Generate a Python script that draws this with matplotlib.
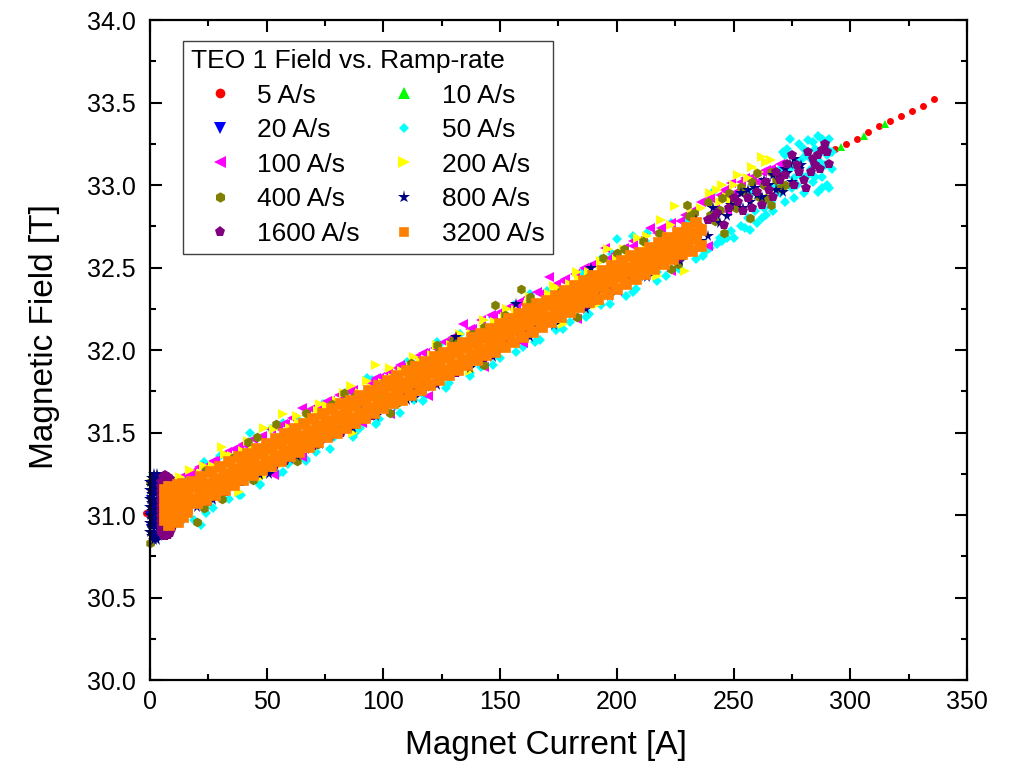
import matplotlib
matplotlib.use("Agg")
import matplotlib.pyplot as plt
from matplotlib.ticker import MultipleLocator, FormatStrFormatter

plt.rcParams['font.family'] = ['Liberation Sans', 'DejaVu Sans']

# ---- data: (current [A], field [T]) ----
pts_5 = [(-1.8, 31.01), (20, 31.15), (40, 31.29), (60, 31.44), (80, 31.58), (100, 31.73),
         (120, 31.87), (140, 32.02), (160, 32.16), (180, 32.31), (200, 32.45), (220, 32.60),
         (293.6, 33.22), (298.2, 33.25), (302.9, 33.28), (307.6, 33.32), (312.4, 33.36),
         (317.1, 33.39), (321.7, 33.42), (326.6, 33.45), (331.3, 33.48), (336.0, 33.52)]

pts_10 = [(25, 31.18), (50, 31.36), (75, 31.54), (100, 31.73), (125, 31.91), (150, 32.09),
          (175, 32.27), (200, 32.45), (225, 32.63), (296.2, 33.23), (305.7, 33.30), (315.0, 33.37)]

pts_20 = [(-0.5, 31.00), (0, 31.10), (0, 30.92), (1, 31.05), (1, 30.96), (30, 31.22), (60, 31.44),
          (90, 31.65), (120, 31.87), (150, 32.09), (180, 32.31), (210, 32.52)]

pts_50 = [(16, 31.22), (19, 30.97), (22, 30.94), (24, 31.01), (30, 31.36), (34, 31.10), (39, 31.12),
          (43, 31.50), (47, 31.18), (52, 31.52), (55, 31.25), (59, 31.31), (63, 31.58), (67, 31.34),
          (71, 31.38), (74, 31.67), (79, 31.47), (84, 31.74), (88, 31.50), (90, 31.53), (95, 31.82),
          (98, 31.58), (105, 31.66), (110, 31.93), (113, 31.70), (118, 31.72), (124, 32.03),
          (128, 31.80), (133, 32.10), (137, 31.86), (142, 31.90), (147, 32.20), (150, 31.95),
          (156, 32.27), (160, 32.02), (165, 32.05), (170, 32.36), (174, 32.12), (180, 32.17),
          (185, 32.47), (188, 32.22), (193, 32.27), (198, 32.58), (200, 32.67), (204, 32.33),
          (207, 32.69), (208, 32.37), (212, 32.66), (213, 32.71), (217, 32.47), (221, 32.45),
          (226, 32.50), (228, 32.56), (230, 32.79), (234, 32.55), (236, 32.62), (238, 32.60),
          (241, 32.96), (243, 32.64), (244, 32.68), (247, 32.68), (250, 32.68), (255, 32.74),
          (257, 32.73), (258, 32.95), (260, 32.77), (262, 32.80), (264, 32.82), (266, 32.90),
          (266, 32.98), (268, 33.06), (270, 32.95), (270, 33.10), (272, 33.18), (272, 32.90),
          (273, 33.22), (274, 33.10), (275, 32.98), (276, 33.04), (276, 32.92), (277, 33.14),
          (278, 33.25), (279, 33.06), (279, 33.15), (280, 32.95), (281, 33.18), (282, 33.27),
          (283, 33.10), (284, 33.02), (284, 33.26), (285, 33.22), (286, 33.30), (286, 32.96),
          (287, 33.14), (288, 33.05), (289, 33.24), (290, 33.18), (290, 33.00), (291, 33.28),
          (291, 32.98), (292, 33.10),
          (13, 30.95), (27, 31.04), (38, 31.12), (47, 31.19), (57, 31.26), (67, 31.33), (77, 31.40),
          (87, 31.47), (97, 31.55), (107, 31.62), (117, 31.69), (127, 31.77), (137, 31.84),
          (147, 31.91), (157, 31.99), (167, 32.06), (177, 32.13), (187, 32.20), (197, 32.28),
          (207, 32.35), (217, 32.42), (227, 32.49), (237, 32.57), (23, 31.32), (57, 31.56),
          (93, 31.83), (123, 32.05), (163, 32.34), (193, 32.55), (223, 32.77),
          (240, 32.62), (245, 32.66), (249, 32.72), (253, 32.75), (256, 32.80), (259, 32.84),
          (263, 32.86), (267, 32.84), (269, 33.00), (271, 33.20), (274, 33.28), (276, 33.12),
          (280, 33.22), (283, 33.16), (285, 33.05), (288, 33.28), (290, 33.22), (292, 33.20),
          (289, 33.12), (281, 33.05), (277, 33.00), (288, 32.98)]

pts_100 = [(12, 31.21), (15, 31.24), (18, 31.26), (21, 31.29), (24, 31.30), (28, 31.33), (33, 31.38),
           (36, 31.40), (40, 31.43), (44, 31.46), (48, 31.48), (52, 31.52), (55, 31.53), (58, 31.55),
           (61, 31.59), (65, 31.65), (65, 31.35), (69, 31.64), (72, 31.66), (76, 31.69), (81, 31.73),
           (85, 31.75), (91, 31.56), (94, 31.80), (98, 31.83), (102, 31.86), (106, 31.89),
           (110, 31.91), (114, 31.96), (118, 31.98), (119, 31.72), (122, 32.01), (126, 32.05),
           (130, 32.08), (134, 32.16), (138, 32.13), (142, 32.18), (146, 32.21), (150, 32.23),
           (154, 32.26), (158, 32.29), (160, 32.04), (162, 32.32), (166, 32.35), (171, 32.44),
           (174, 32.40), (178, 32.43), (182, 32.46), (186, 32.50), (190, 32.52), (195, 32.62),
           (199, 32.58), (200, 32.36), (203, 32.62), (207, 32.66), (211, 32.68), (214, 32.74),
           (219, 32.74), (223, 32.77), (226, 32.58), (229, 32.82), (233, 32.85), (236, 32.90),
           (239, 32.63), (240, 32.92), (244, 32.94), (249, 33.01), (253, 33.02), (258, 33.05),
           (262, 33.08), (266, 33.10), (270, 33.13),
           (17, 31.25), (27, 31.33), (38, 31.41), (47, 31.47), (57, 31.55), (67, 31.62), (77, 31.69),
           (87, 31.76), (97, 31.83), (107, 31.91), (117, 31.98), (127, 32.05), (137, 32.13),
           (147, 32.20), (157, 32.27), (167, 32.34), (177, 32.42), (187, 32.49), (197, 32.56),
           (207, 32.63), (217, 32.71), (227, 32.78), (53, 31.24), (103, 31.61), (143, 31.90),
           (183, 32.19), (223, 32.48),
           (242, 32.86), (246, 32.97), (251, 32.96), (255, 33.04), (260, 33.02), (264, 33.09),
           (268, 33.05), (247, 32.84)]

pts_200 = [(10, 30.97), (14, 31.20), (17, 31.27), (22, 31.25), (24, 31.07), (27, 31.30), (31, 31.41),
           (35, 31.36), (40, 31.39), (44, 31.42), (48, 31.23), (49, 31.53), (54, 31.29), (57, 31.61),
           (60, 31.53), (64, 31.56), (68, 31.60), (70, 31.40), (72, 31.63), (76, 31.66), (80, 31.69),
           (86, 31.78), (90, 31.74), (95, 31.77), (97, 31.91), (100, 31.80), (104, 31.83),
           (108, 31.87), (112, 31.90), (116, 31.93), (120, 31.78), (121, 31.97), (125, 32.00),
           (129, 32.03), (133, 32.06), (138, 32.10), (143, 32.13), (148, 32.17), (151, 32.00),
           (152, 32.20), (157, 32.24), (162, 32.27), (166, 32.30), (171, 32.34), (175, 32.37),
           (180, 32.40), (184, 32.43), (188, 32.47), (191, 32.27), (193, 32.50), (196, 32.61),
           (200, 32.55), (205, 32.58), (209, 32.68), (213, 32.64), (219, 32.79), (225, 32.87),
           (229, 32.48), (232, 32.82), (236, 32.86), (243, 32.97), (247, 32.93), (250, 33.00),
           (256, 33.04), (258, 33.11), (264, 33.14),
           (13, 31.23), (23, 31.30), (32, 31.37), (42, 31.45), (53, 31.52), (63, 31.60), (73, 31.67),
           (83, 31.74), (93, 31.81), (103, 31.89), (113, 31.96), (123, 32.03), (133, 32.10),
           (143, 32.18), (153, 32.25), (163, 32.32), (173, 32.39), (183, 32.47), (193, 32.54),
           (203, 32.61), (213, 32.69), (223, 32.76), (233, 32.83), (38, 31.14), (87, 31.50),
           (137, 31.87), (177, 32.16), (217, 32.45),
           (240, 32.95), (245, 33.00), (249, 32.91), (252, 33.06), (254, 32.98), (261, 33.08),
           (266, 33.15), (262, 33.17), (244, 32.90)]

pts_400 = [(0, 30.83), (0, 31.20), (12, 31.16), (13, 31.05), (16, 31.01), (20, 30.96), (24, 31.27),
           (31, 31.10), (36, 31.35), (44, 31.21), (46, 31.47), (50, 31.30), (54, 31.55), (60, 31.51),
           (67, 31.62), (72, 31.43), (78, 31.67), (81, 31.52), (88, 31.72), (94, 31.64), (100, 31.80),
           (106, 31.68), (112, 31.92), (118, 31.80), (119, 31.78), (124, 31.99), (130, 32.06),
           (132, 31.88), (138, 32.10), (143, 32.14), (148, 32.27), (148, 32.01), (152, 32.21),
           (159, 32.37), (160, 32.10), (163, 32.30), (170, 32.18), (176, 32.36), (182, 32.27),
           (188, 32.44), (194, 32.56), (200, 32.59), (205, 32.44), (211, 32.66), (218, 32.71),
           (223, 32.56), (226, 32.52), (230, 32.88), (231, 32.81), (235, 32.75), (239, 32.90),
           (240, 32.82), (244, 32.85), (246, 32.71), (248, 32.95), (250, 32.90), (254, 32.96),
           (257, 32.80), (260, 33.07), (261, 32.93), (266, 33.08), (266, 32.88), (270, 32.98),
           (23, 31.04), (42, 31.44), (63, 31.33), (83, 31.74), (103, 31.62), (123, 32.03),
           (143, 31.91), (163, 32.32), (183, 32.20), (203, 32.61), (223, 32.49), (233, 32.83),
           (242, 32.78), (245, 32.92), (251, 32.86), (253, 32.99), (256, 32.93), (258, 33.02),
           (263, 33.00), (264, 32.92), (268, 33.03), (272, 33.00)]

pts_800 = [(0, 31.20), (0, 31.15), (0, 31.10), (0, 31.05), (0, 31.00), (0, 30.95), (0, 30.90),
           (0.75, 31.225), (0.75, 31.175), (0.75, 31.125), (0.75, 31.075), (0.75, 31.025),
           (0.75, 30.975), (0.75, 30.925), (0.75, 30.875),
           (1.5, 31.25), (1.5, 31.20), (1.5, 31.15), (1.5, 31.10), (1.5, 31.05), (1.5, 31.00),
           (1.5, 30.95), (1.5, 30.90), (1.5, 30.85),
           (2.25, 31.225), (2.25, 31.175), (2.25, 31.125), (2.25, 31.075), (2.25, 31.025),
           (2.25, 30.975), (2.25, 30.925), (2.25, 30.875),
           (3, 31.25), (3, 31.20), (3, 31.15), (3, 31.10), (3, 31.05), (3, 31.00), (3, 30.95),
           (3, 30.90), (3, 30.85),
           (3.75, 31.225), (3.75, 31.175), (3.75, 31.125), (3.75, 31.075), (3.75, 31.025),
           (3.75, 30.975), (3.75, 30.925), (3.75, 30.875),
           (9, 30.99), (20, 31.05), (34, 31.18), (44, 31.24), (51, 31.25), (60, 31.34), (67, 31.40),
           (75, 31.47), (84, 31.52), (93, 31.61), (101, 31.66), (107, 31.70), (110, 31.70),
           (114, 31.76), (120, 31.80), (127, 31.85), (131, 32.08), (133, 31.89), (139, 31.96),
           (146, 31.98), (152, 32.06), (157, 32.28), (158, 32.09), (165, 32.14), (172, 32.20),
           (178, 32.24), (185, 32.30), (189, 32.50), (191, 32.34), (198, 32.40), (204, 32.44),
           (208, 32.58), (210, 32.45), (216, 32.56), (222, 32.55), (227, 32.60), (234, 32.79),
           (236, 32.66), (239, 32.69), (241, 32.86), (244, 32.77), (247, 32.81), (251, 32.93),
           (254, 32.86), (257, 32.90), (259, 32.98), (262, 32.93), (265, 33.00), (268, 32.97),
           (270, 33.05), (271, 32.96), (273, 33.07), (276, 33.16), (278, 33.10),
           (27, 31.09), (47, 31.24), (63, 31.36), (73, 31.43), (87, 31.53), (97, 31.60),
           (113, 31.71), (123, 31.79), (137, 31.89), (147, 31.96), (163, 32.08), (173, 32.15),
           (187, 32.25), (197, 32.33), (213, 32.44), (227, 32.54),
           (243, 32.82), (249, 32.88), (253, 32.95), (256, 32.97), (260, 32.94), (263, 33.03),
           (267, 33.06), (272, 33.10), (274, 33.13), (275, 33.02), (279, 33.12)]

pts_1600 = [(4.5, 31.20), (4.5, 31.17), (4.5, 31.14), (4.5, 31.11), (4.5, 31.08), (4.5, 31.05),
            (4.5, 31.02), (4.5, 30.99), (4.5, 30.96), (4.5, 30.93), (4.5, 30.90),
            (5.5, 31.23), (5.5, 30.88), (6.5, 31.24), (6.5, 30.87), (7.5, 31.23), (7.5, 30.88),
            (8.5, 31.22), (8.5, 30.89), (9.5, 31.18), (9.5, 30.92), (10.5, 31.10), (10.5, 31.00),
            (25, 31.08), (39, 31.20), (48, 31.27), (58, 31.33), (70, 31.42), (82, 31.50),
            (95, 31.60), (105, 31.68), (110, 31.72), (122, 31.80), (131, 31.86), (135, 31.92),
            (142, 32.01), (152, 32.03), (161, 32.11), (168, 32.18), (174, 32.31), (181, 32.28),
            (190, 32.30), (197, 32.36), (204, 32.42), (211, 32.48), (218, 32.52), (225, 32.59),
            (231, 32.62), (232, 32.71), (239, 32.79), (243, 32.83), (246, 32.76), (250, 32.92),
            (254, 32.84), (258, 32.86), (262, 32.88), (265, 32.97), (267, 32.93), (270, 33.03),
            (273, 33.13), (275, 33.18), (276, 33.00), (278, 33.08), (281, 32.98), (283, 33.08),
            (285, 33.12), (286, 33.18), (288, 33.21), (289, 33.25), (291, 33.13),
            (32, 31.14), (53, 31.29), (77, 31.47), (93, 31.58), (117, 31.76), (143, 31.95),
            (157, 32.05), (187, 32.27), (213, 32.46), (227, 32.56),
            (241, 32.80), (248, 32.86), (252, 32.90), (256, 32.92), (260, 32.96), (264, 33.02),
            (268, 33.08), (272, 33.06), (277, 33.12), (280, 33.03), (284, 33.16), (287, 33.10),
            (290, 33.20), (282, 33.20)]

# 3200 A/s: the dense band, read as four staggered rows plus the start blob
i_3200_a = [10, 14, 18, 22, 26, 30, 34, 38, 42, 46, 50, 54, 58, 62, 66, 70, 74, 78, 82, 86,
            90, 94, 98, 102, 106, 110, 114, 118, 122, 126, 130, 134, 138, 142, 146, 150, 154, 158,
            162, 166, 170, 174, 178, 182, 186, 190, 194, 198, 202, 206, 210, 214, 218, 222, 226,
            230, 234]
b_3200_a_top = [31.14, 31.17, 31.20, 31.23, 31.26, 31.29, 31.32, 31.35, 31.37, 31.40,
                31.43, 31.46, 31.49, 31.52, 31.55, 31.58, 31.61, 31.64, 31.67, 31.69,
                31.72, 31.75, 31.78, 31.81, 31.84, 31.87, 31.90, 31.93, 31.96, 31.98,
                32.01, 32.04, 32.07, 32.10, 32.13, 32.16, 32.19, 32.22, 32.25, 32.28,
                32.30, 32.33, 32.36, 32.39, 32.42, 32.45, 32.48, 32.51, 32.54, 32.57,
                32.59, 32.62, 32.65, 32.68, 32.71, 32.74, 32.77]
b_3200_a_low = [31.04, 31.07, 31.10, 31.13, 31.16, 31.19, 31.22, 31.25, 31.27, 31.30,
                31.33, 31.36, 31.39, 31.42, 31.45, 31.48, 31.51, 31.54, 31.57, 31.59,
                31.62, 31.65, 31.68, 31.71, 31.74, 31.77, 31.80, 31.83, 31.86, 31.88,
                31.91, 31.94, 31.97, 32.00, 32.03, 32.06, 32.09, 32.12, 32.15, 32.18,
                32.20, 32.23, 32.26, 32.29, 32.32, 32.35, 32.38, 32.41, 32.44, 32.47,
                32.49, 32.52, 32.55, 32.58, 32.61, 32.64, 32.67]
i_3200_b = [12, 16, 20, 24, 28, 32, 36, 40, 44, 48, 52, 56, 60, 64, 68, 72, 76, 80, 84, 88,
            92, 96, 100, 104, 108, 112, 116, 120, 124, 128, 132, 136, 140, 144, 148, 152, 156,
            160, 164, 168, 172, 176, 180, 184, 188, 192, 196, 200, 204, 208, 212, 216, 220, 224,
            228, 232, 236]
b_3200_b_up = [31.11, 31.14, 31.17, 31.19, 31.22, 31.25, 31.28, 31.31, 31.34, 31.37,
               31.40, 31.43, 31.46, 31.48, 31.51, 31.54, 31.57, 31.60, 31.63, 31.66,
               31.69, 31.72, 31.75, 31.78, 31.80, 31.83, 31.86, 31.89, 31.92, 31.95,
               31.98, 32.01, 32.04, 32.07, 32.09, 32.12, 32.15, 32.18, 32.21, 32.24,
               32.27, 32.30, 32.33, 32.36, 32.39, 32.41, 32.44, 32.47, 32.50, 32.53,
               32.56, 32.59, 32.62, 32.65, 32.68, 32.70, 32.73]
b_3200_b_low = [31.01, 31.04, 31.07, 31.09, 31.12, 31.15, 31.18, 31.21, 31.24, 31.27,
                31.30, 31.33, 31.36, 31.38, 31.41, 31.44, 31.47, 31.50, 31.53, 31.56,
                31.59, 31.62, 31.65, 31.68, 31.70, 31.73, 31.76, 31.79, 31.82, 31.85,
                31.88, 31.91, 31.94, 31.97, 31.99, 32.02, 32.05, 32.08, 32.11, 32.14,
                32.17, 32.20, 32.23, 32.26, 32.29, 32.31, 32.34, 32.37, 32.40, 32.43,
                32.46, 32.49, 32.52, 32.55, 32.58, 32.60, 32.63]
blob_3200 = [(6.5, 31.15), (6.5, 31.09), (6.5, 31.03), (6.5, 30.97), (8, 31.17), (8, 31.11),
             (8, 31.05), (8, 30.99), (8, 30.94), (10, 31.16), (10, 31.10), (10, 30.98),
             (12, 31.18), (12, 30.96), (14, 31.19), (14, 30.99), (16, 31.02)]

i_3200 = i_3200_a + i_3200_a + i_3200_b + i_3200_b + [p[0] for p in blob_3200]
b_3200 = b_3200_a_top + b_3200_a_low + b_3200_b_up + b_3200_b_low + [p[1] for p in blob_3200]

labels = ["5 A/s", "10 A/s", "20 A/s", "50 A/s", "100 A/s",
          "200 A/s", "400 A/s", "800 A/s", "1600 A/s", "3200 A/s"]
colors = ["#ff0000", "#00ff00", "#0000ff", "#00ffff", "#ff00ff",
          "#ffff00", "#808000", "#000080", "#800080", "#ff8000"]
markers = ["o", "^", "v", "D", "<", ">", "h", "*", "p", "s"]
sizes = [5.0, 6.0, 6.0, 5.5, 7.5, 7.5, 7.0, 8.5, 7.2, 7.4]
edges = [0, 0, 0, 0, 0, 0, 0, 0, 0, 1.2]
leg_sizes = [7.0, 8.0, 8.0, 5.5, 8.0, 8.0, 7.5, 9.5, 8.0, 6.0]

series = [pts_5, pts_10, pts_20, pts_50, pts_100, pts_200, pts_400, pts_800, pts_1600, None]

fig = plt.figure(figsize=(10.17, 7.67), dpi=100)
ax = fig.add_axes([0.1475, 0.1134, 0.8033, 0.8605])

lines = []
for k, pts in enumerate(series):
    if pts is None:
        xs, ys = i_3200, b_3200
    else:
        xs = [p[0] for p in pts]
        ys = [p[1] for p in pts]
    ln, = ax.plot(xs, ys, linestyle="none", marker=markers[k], markersize=sizes[k],
                  color=colors[k], markeredgecolor=colors[k], markeredgewidth=edges[k],
                  label=labels[k], clip_on=False)
    lines.append(ln)

ax.set_xlim(0, 350)
ax.set_ylim(30.0, 34.0)
ax.xaxis.set_major_locator(MultipleLocator(50))
ax.xaxis.set_minor_locator(MultipleLocator(25))
ax.yaxis.set_major_locator(MultipleLocator(0.5))
ax.yaxis.set_minor_locator(MultipleLocator(0.25))
ax.yaxis.set_major_formatter(FormatStrFormatter("%.1f"))

ax.tick_params(which="both", direction="in", top=True, right=True, width=1.5)
ax.tick_params(which="major", length=8.5, labelsize=18)
ax.tick_params(axis="x", which="major", pad=7)
ax.tick_params(axis="y", which="major", pad=10)
ax.tick_params(which="minor", length=4.3)
for sp in ax.spines.values():
    sp.set_linewidth(1.6)

ax.set_xlabel("Magnet Current [A]", fontsize=24)
ax.set_ylabel("Magnetic Field [T]", fontsize=24)
ax.xaxis.set_label_coords(0.485, -0.076)
ax.yaxis.set_label_coords(-0.11, 0.52)

# legend entries run across rows, as in the original
order = [0, 2, 4, 6, 8, 1, 3, 5, 7, 9]
leg = ax.legend([lines[k] for k in order], [labels[k] for k in order],
                title="TEO 1 Field vs. Ramp-rate", ncol=2, fontsize=19, title_fontsize=19,
                loc="upper left", bbox_to_anchor=(0.0404, 0.968), borderaxespad=0,
                alignment="left", numpoints=1, handlelength=2.17, handletextpad=0.34,
                columnspacing=0.6, labelspacing=0.40, borderpad=0.3,
                fancybox=False, framealpha=1, edgecolor="#404040")
leg.get_frame().set_linewidth(1.0)
for h, k in zip(leg.legend_handles, order):
    h.set_markersize(leg_sizes[k])

fig.savefig("out.png", dpi=100)
